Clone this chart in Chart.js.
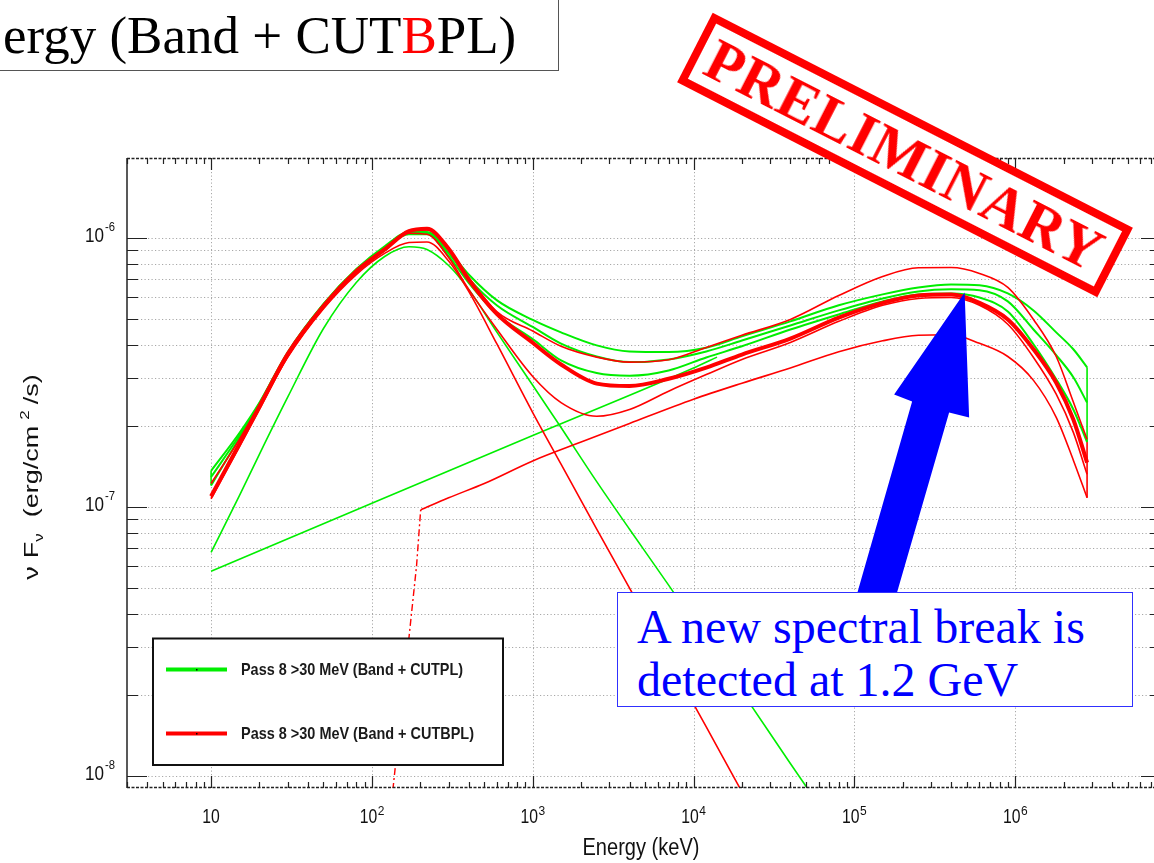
<!DOCTYPE html>
<html>
<head>
<meta charset="utf-8">
<script src="https://cdn.jsdelivr.net/npm/chart.js@4.4.1/dist/chart.umd.min.js"></script>
<style>
  html, body { margin:0; padding:0; background:#fff; overflow:hidden; }
  #wrap { position:relative; width:1154px; height:863px; overflow:hidden; }
  canvas { display:block; }
  #title { position:absolute; left:-10px; top:-1px; width:569px; height:72px; box-sizing:border-box;
           border:1px solid #555; background:#fff; padding-left:12px; white-space:nowrap;
           font-family:"Liberation Serif","Times New Roman",serif; font-size:53px; line-height:70px; color:#000; }
  #title .b { color:#f00; }
  #stamp { position:absolute; left:669px; top:116px; width:472px; height:78px; box-sizing:border-box;
           border:8px solid #f00; background:#fff; transform:rotate(27.1deg); color:#f00; text-align:center;
           font-family:"Liberation Serif","Times New Roman",serif; font-weight:bold; font-size:59px; line-height:62px; letter-spacing:1px; }
  #note { position:absolute; left:617px; top:592px; width:516px; height:115px; box-sizing:border-box;
          border:1px solid #3030ff; background:#fff; color:#0000ff; padding:7px 0 0 19px; white-space:nowrap;
          font-family:"Liberation Serif","Times New Roman",serif; font-size:48px; line-height:53.4px; }
</style>
</head>
<body>
<div id="wrap">
  <canvas id="sed" width="1154" height="863"></canvas>
  <div id="title">ergy (Band + CUT<span class="b">B</span>PL)</div>
  <div id="stamp">PRELIMINARY</div>
  <div id="note">A new spectral break is<br>detected at 1.2 GeV</div>
</div>
<script>
const energyKeV = [10, 15, 20, 30, 50, 80, 120, 170, 220, 300, 400, 600, 1000, 1500, 2500, 4000, 7000,
  1.2e4, 2e4, 4e4, 8e4, 1.5e5, 2.5e5, 4e5, 6e5, 9e5, 1.3e6, 1.8e6, 2.3e6, 2.8e6];

// nuFnu (erg/cm2/s), Band + CUTBPL
const cutbplBestFit = [1.094e-7, 1.71e-7, 2.36e-7, 3.70e-7, 5.57e-7, 7.51e-7, 9.05e-7, 1.058e-6, 1.08e-6, 9.1e-7,
  7.0e-7, 5.2e-7, 4.07e-7, 3.38e-7, 2.87e-7, 2.81e-7, 2.99e-7, 3.29e-7, 3.68e-7, 4.22e-7, 5.05e-7, 5.73e-7,
  6.10e-7, 6.15e-7, 5.73e-7, 4.97e-7, 3.85e-7, 2.89e-7, 2.11e-7, 1.46e-7];
const cutbplUpper = [1.22e-7, 1.78e-7, 2.40e-7, 3.72e-7, 5.62e-7, 7.58e-7, 9.15e-7, 1.06e-6, 1.07e-6, 9.15e-7,
  7.1e-7, 5.3e-7, 4.5e-7, 3.95e-7, 3.6e-7, 3.45e-7, 3.52e-7, 3.91e-7, 4.34e-7, 4.97e-7, 6.10e-7, 7.18e-7,
  7.74e-7, 7.75e-7, 7.37e-7, 6.54e-7, 4.97e-7, 3.62e-7, 2.45e-7, 1.78e-7];
const cutbplLower = [1.07e-7, 1.67e-7, 2.30e-7, 3.62e-7, 5.5e-7, 7.4e-7, 8.95e-7, 1.04e-6, 1.03e-6, 8.45e-7,
  6.43e-7, 4.56e-7, 3.05e-7, 2.44e-7, 2.17e-7, 2.30e-7, 2.69e-7, 3.10e-7, 3.53e-7, 4.08e-7, 4.89e-7, 5.61e-7,
  5.95e-7, 6.0e-7, 5.61e-7, 4.77e-7, 3.59e-7, 2.62e-7, 1.89e-7, 1.32e-7];

// nuFnu, Band + CUTPL
const cutplUpper = [1.36e-7, 1.88e-7, 2.44e-7, 3.76e-7, 5.68e-7, 7.65e-7, 9.3e-7, 1.05e-6, 1.05e-6, 8.95e-7,
  7.3e-7, 5.85e-7, 4.95e-7, 4.45e-7, 3.98e-7, 3.78e-7, 3.76e-7, 3.90e-7, 4.30e-7, 4.89e-7, 5.61e-7, 6.16e-7,
  6.54e-7, 6.71e-7, 6.66e-7, 6.21e-7, 5.37e-7, 4.45e-7, 3.85e-7, 3.30e-7];
const cutplMid = [1.29e-7, 1.84e-7, 2.42e-7, 3.74e-7, 5.66e-7, 7.6e-7, 9.2e-7, 1.04e-6, 1.04e-6, 8.75e-7,
  7.05e-7, 5.6e-7, 4.66e-7, 4.04e-7, 3.62e-7, 3.45e-7, 3.53e-7, 3.78e-7, 4.15e-7, 4.72e-7, 5.37e-7, 5.95e-7,
  6.32e-7, 6.43e-7, 6.38e-7, 5.80e-7, 4.56e-7, 3.66e-7, 3.03e-7, 2.44e-7];
const cutplLower = [1.20e-7, 1.80e-7, 2.40e-7, 3.72e-7, 5.63e-7, 7.55e-7, 9.15e-7, 1.03e-6, 1.03e-6, 8.55e-7,
  6.8e-7, 5.2e-7, 4.2e-7, 3.5e-7, 3.14e-7, 3.07e-7, 3.21e-7, 3.59e-7, 3.95e-7, 4.56e-7, 5.19e-7, 5.80e-7,
  6.16e-7, 6.21e-7, 6.0e-7, 5.32e-7, 4.02e-7, 2.98e-7, 2.30e-7, 1.74e-7];

// single components
const bandRedEnergy = [10, 15, 20, 30, 50, 80, 120, 170, 220, 300, 400, 600, 1000, 1500, 2500, 4000, 7000, 1.2e4, 1.93e4, 2.5e4];
const bandRedFlux = [1.08e-7, 1.69e-7, 2.33e-7, 3.6e-7, 5.45e-7, 7.3e-7, 8.75e-7, 9.6e-7, 9.65e-7, 8.2e-7,
  6.32e-7, 4.02e-7, 2.24e-7, 1.44e-7, 8.26e-8, 4.98e-8, 2.71e-8, 1.52e-8, 9.05e-9, 6.86e-9];
const bandGreenEnergy = [10, 15, 20, 30, 50, 80, 120, 170, 220, 300, 400, 600, 1000, 1500, 2500, 4000, 7000, 1.2e4, 2e4, 4e4, 6e4];
const bandGreenFlux = [6.76e-8, 1.10e-7, 1.57e-7, 2.56e-7, 4.6e-7, 6.82e-7, 8.52e-7, 9.26e-7, 9.05e-7, 7.89e-7,
  6.43e-7, 4.45e-7, 2.83e-7, 1.97e-7, 1.24e-7, 8.25e-8, 5.11e-8, 3.19e-8, 2.05e-8, 1.11e-8, 7.8e-9];
const cutbplCompEnergy = [201, 300, 500, 1000, 2000, 4000, 1e4, 2e4, 4e4, 8e4, 1.5e5, 2.5e5, 4e5, 6e5, 9e5, 1.3e6, 1.8e6, 2.3e6, 2.8e6];
const cutbplCompFlux = [9.73e-8, 1.08e-7, 1.22e-7, 1.48e-7, 1.74e-7, 2.04e-7, 2.51e-7, 2.88e-7, 3.28e-7, 3.77e-7,
  4.14e-7, 4.34e-7, 4.36e-7, 4.05e-7, 3.62e-7, 2.95e-7, 2.15e-7, 1.49e-7, 1.08e-7];
const cutbplBreakEnergy = [135, 189.5, 201];
const cutbplBreakFlux = [8.85e-9, 6.03e-8, 9.73e-8];
const cutplCompEnergy = [10, 100, 1000, 1e4, 1.4e4];
const cutplCompFlux = [5.76e-8, 1.03e-7, 1.84e-7, 3.28e-7, 3.6e-7];

// axes
const xRange = [3, 7.3e6];
const yRange = [9.05e-9, 1.98e-6];
const xDecades = [10, 100, 1e3, 1e4, 1e5, 1e6];
const xDecadeExp = [1, 2, 3, 4, 5, 6];
const yDecades = [1e-8, 1e-7, 1e-6];
const yDecadeExp = [-8, -7, -6];
const seriesNames = ['Pass 8 >30 MeV (Band + CUTPL)', 'Pass 8 >30 MeV (Band + CUTBPL)'];
const arrowTip = [4.85e5, 6.26e-7];

const GREEN = '#00ee00', RED = '#ff0000';
const pts = (xs, ys) => xs.map((e, i) => ({x: e, y: ys[i]}));
const last = a => a[a.length - 1];

function line(data, color, width, extra) {
  return Object.assign({data, borderColor: color, backgroundColor: color, borderWidth: width,
    pointRadius: 0, fill: false, cubicInterpolationMode: 'monotone'}, extra || {});
}

// minor tick values m*10^k inside a range
function logTicks(lo, hi) {
  const out = [];
  for (let k = Math.floor(Math.log10(lo)); k <= Math.ceil(Math.log10(hi)); k++)
    for (let m = 1; m <= 9; m++) { const v = m * Math.pow(10, k); if (v >= lo * 0.999 && v <= hi) out.push(v); }
  return out;
}
const isDecade = v => Math.abs(Math.log10(v) - Math.round(Math.log10(v))) < 1e-9;

const FONT = '"Liberation Sans", Arial, sans-serif';

const decor = {
  id: 'decor',
  beforeDatasetsDraw(chart) {
    const {ctx, chartArea: a, scales: {x, y}} = chart;
    ctx.save();
    ctx.strokeStyle = '#a8a8a8';
    ctx.lineWidth = 1;
    ctx.setLineDash([1.2, 2.3]);
    logTicks(yRange[0], yRange[1]).forEach(v => {
      const py = Math.round(y.getPixelForValue(v)) + 0.5;
      ctx.beginPath(); ctx.moveTo(a.left, py); ctx.lineTo(a.right, py); ctx.stroke();
    });
    xDecades.forEach(v => {
      const px = Math.round(x.getPixelForValue(v)) + 0.5;
      ctx.beginPath(); ctx.moveTo(px, a.top); ctx.lineTo(px, a.bottom); ctx.stroke();
    });
    ctx.restore();
  },
  afterDatasetsDraw(chart) {
    const {ctx, chartArea: a, scales: {x, y}} = chart;
    ctx.save();

    // arrow pointing at the high-energy break
    const tx = x.getPixelForValue(arrowTip[0]), ty = y.getPixelForValue(arrowTip[1]);
    const shape = [[0, 0], [4.5, 125], [-15.5, 120], [-70.5, 310], [-109.5, 308], [-52.5, 109], [-70.5, 102]];
    ctx.fillStyle = '#0000ff';
    ctx.beginPath();
    shape.forEach(([dx, dy], i) => i ? ctx.lineTo(tx + dx, ty + dy) : ctx.moveTo(tx + dx, ty + dy));
    ctx.closePath(); ctx.fill();

    // frame
    ctx.strokeStyle = '#222';
    ctx.lineWidth = 1.5;
    ctx.beginPath(); ctx.moveTo(a.left, a.top); ctx.lineTo(a.left, a.bottom); ctx.stroke();
    ctx.setLineDash([3, 1.5]);
    ctx.beginPath(); ctx.moveTo(a.left, a.top + 0.5); ctx.lineTo(a.right, a.top + 0.5); ctx.stroke();
    ctx.beginPath(); ctx.moveTo(a.left, a.bottom - 0.5); ctx.lineTo(a.right, a.bottom - 0.5); ctx.stroke();
    ctx.setLineDash([]);
    ctx.lineWidth = 1.2;
    logTicks(xRange[0], xRange[1]).forEach(v => {
      const px = Math.round(x.getPixelForValue(v)) + 0.5, len = isDecade(v) ? 12 : 6;
      ctx.beginPath();
      ctx.moveTo(px, a.top); ctx.lineTo(px, a.top + len);
      ctx.moveTo(px, a.bottom); ctx.lineTo(px, a.bottom - len);
      ctx.stroke();
    });
    logTicks(yRange[0], yRange[1]).forEach(v => {
      const py = Math.round(y.getPixelForValue(v)) + 0.5, major = isDecade(v);
      ctx.beginPath();
      ctx.moveTo(a.left, py); ctx.lineTo(a.left + (major ? 20 : 11), py);
      ctx.moveTo(a.right, py); ctx.lineTo(a.right - (major ? 13 : 4), py);
      ctx.stroke();
    });

    // tick labels
    ctx.fillStyle = '#111';
    ctx.textBaseline = 'alphabetic';
    ctx.textAlign = 'left';
    xDecades.forEach((v, i) => {
      const px = x.getPixelForValue(v), e = xDecadeExp[i];
      const wb = 17.5, we = e === 1 ? 0 : 7;
      const start = px - (wb + we) / 2;
      ctx.font = '20px ' + FONT;
      ctx.fillText('10', start, a.bottom + 35, wb);
      if (e !== 1) { ctx.font = '12px ' + FONT; ctx.fillText(String(e), start + wb + 0.5, a.bottom + 27, we); }
    });
    yDecades.forEach((v, i) => {
      const py = y.getPixelForValue(v);
      ctx.font = '21px ' + FONT;
      ctx.textAlign = 'right';
      ctx.fillText('10', 104, py + 4, 19);
      ctx.font = '12px ' + FONT;
      ctx.textAlign = 'left';
      ctx.fillText(String(yDecadeExp[i]), 105, py - 7, 10);
    });

    // axis titles
    ctx.font = '23px ' + FONT;
    ctx.textAlign = 'center';
    ctx.fillText('Energy (keV)', 641, 855, 117);

    ctx.save();
    ctx.translate(38, 477);
    ctx.rotate(-Math.PI / 2);
    ctx.scale(1, 0.72);
    const big = '27px ' + FONT, small = '17px ' + FONT;
    const parts = [['ν', big, 0, 8], ['F', big, 0, 0], ['ν', small, 7, 16], ['(erg/cm', big, 0, 6],
                   ['2', small, -13, 6], ['/s)', big, 0, 0]];
    let total = 0;
    parts.forEach(p => { ctx.font = p[1]; total += ctx.measureText(p[0]).width + p[3]; });
    let cx = -total / 2;
    ctx.textAlign = 'left';
    parts.forEach(p => { ctx.font = p[1]; ctx.fillText(p[0], cx, p[2]); cx += ctx.measureText(p[0]).width + p[3]; });
    ctx.restore();

    // legend
    ctx.fillStyle = '#fff';
    ctx.fillRect(153, 638, 350, 127);
    ctx.strokeStyle = '#111';
    ctx.lineWidth = 2;
    ctx.strokeRect(153, 638.5, 350, 126.5);
    [[seriesNames[0], GREEN, 669.5, 222], [seriesNames[1], RED, 733.5, 233]].forEach(([label, color, ly, w]) => {
      ctx.strokeStyle = color; ctx.lineWidth = 4;
      ctx.beginPath(); ctx.moveTo(166, ly); ctx.lineTo(227, ly); ctx.stroke();
      ctx.fillStyle = '#000'; ctx.fillRect(196, ly - 0.5, 1.5, 1.5);
      ctx.fillStyle = '#1a1a1a';
      ctx.font = 'bold 17px ' + FONT;
      ctx.textAlign = 'left';
      ctx.textBaseline = 'middle';
      ctx.fillText(label, 241, ly + 1, w);
    });
    ctx.restore();
  }
};

const datasets = [
  line(pts(energyKeV, cutbplBestFit), RED, 4),
  line(pts(energyKeV, cutbplUpper), RED, 1.6),
  line(pts(energyKeV, cutbplLower), RED, 1.6),
  line(pts(cutbplCompEnergy, cutbplCompFlux), RED, 1.6),
  line(pts(cutbplBreakEnergy, cutbplBreakFlux), RED, 1.4, {borderDash: [7, 3, 2, 3], cubicInterpolationMode: 'default', tension: 0}),
  line(pts(bandRedEnergy, bandRedFlux), RED, 1.6),
  line(pts(energyKeV, cutplUpper), GREEN, 2),
  line(pts(energyKeV, cutplMid), GREEN, 2),
  line(pts(energyKeV, cutplLower), GREEN, 2),
  line(pts(cutplCompEnergy, cutplCompFlux), GREEN, 1.6),
  line(pts(bandGreenEnergy, bandGreenFlux), GREEN, 1.6),
  // contour end caps
  line([{x: energyKeV[0], y: cutplUpper[0]}, {x: energyKeV[0], y: cutplLower[0]}], GREEN, 1.6, {tension: 0, cubicInterpolationMode: 'default'}),
  line([{x: last(energyKeV), y: last(cutplUpper)}, {x: last(energyKeV), y: last(cutplLower)}], GREEN, 1.6, {tension: 0, cubicInterpolationMode: 'default'}),
  line([{x: last(energyKeV), y: last(cutbplUpper)}, {x: last(cutbplCompEnergy), y: last(cutbplCompFlux)}], RED, 1.6, {tension: 0, cubicInterpolationMode: 'default'})
];

new Chart(document.getElementById('sed'), {
  type: 'line',
  data: { datasets },
  options: {
    responsive: false,
    animation: false,
    layout: { padding: { left: 127, top: 158, right: 0, bottom: 75 } },
    plugins: { legend: { display: false }, tooltip: { enabled: false } },
    scales: {
      x: { type: 'logarithmic', min: xRange[0], max: xRange[1], display: false },
      y: { type: 'logarithmic', min: yRange[0], max: yRange[1], display: false }
    }
  },
  plugins: [decor]
});
</script>
</body>
</html>
